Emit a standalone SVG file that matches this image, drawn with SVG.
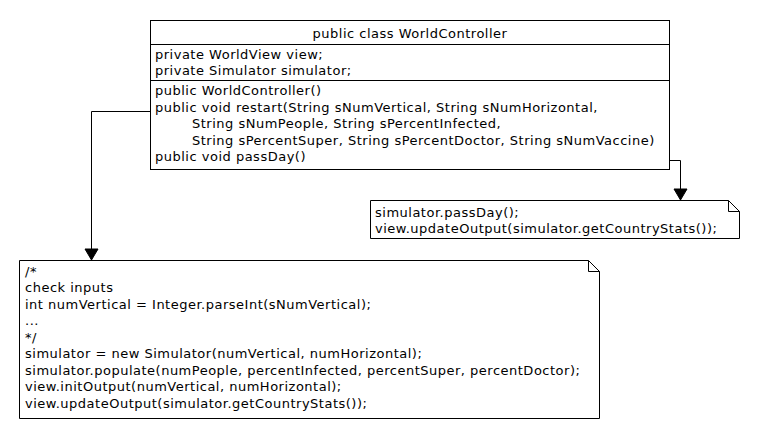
<svg xmlns="http://www.w3.org/2000/svg" width="760" height="440" viewBox="0 0 760 440">
<style>
text{font-family:"DejaVu Sans","Liberation Sans",sans-serif;font-size:13px;letter-spacing:0.5px;fill:#000}
.box{fill:#fff;stroke:#000;stroke-width:1}
.ln{fill:none;stroke:#000;stroke-width:1}
.ah{fill:#000;stroke:#000;stroke-width:1}
</style>
<rect width="760" height="440" fill="#fff"/>
<g id="worldcontroller">
<rect class="box" x="150.5" y="20.5" width="519" height="149"/>
<line class="ln" x1="150.5" y1="44.5" x2="669.5" y2="44.5"/>
<line class="ln" x1="150.5" y1="80.5" x2="669.5" y2="80.5"/>
<text x="410" y="38" text-anchor="middle">public class WorldController</text>
<text x="155" y="58.5">private WorldView view;</text>
<text x="155" y="74.5">private Simulator simulator;</text>
<text x="155" y="95">public WorldController()</text>
<text x="155" y="111.5">public void restart(String sNumVertical, String sNumHorizontal,</text>
<text x="192" y="128">String sNumPeople, String sPercentInfected,</text>
<text x="192" y="144.5">String sPercentSuper, String sPercentDoctor, String sNumVaccine)</text>
<text x="155" y="161">public void passDay()</text>
</g>
<g id="note-passday">
<path class="box" d="M370.5,200.5 H728.5 L739.5,211.5 V238.5 H370.5 Z"/>
<path class="ln" d="M728.5,200.5 V211.5 H739.5"/>
<text x="375" y="216.5">simulator.passDay();</text>
<text x="375" y="233">view.updateOutput(simulator.getCountryStats());</text>
</g>
<g id="note-restart">
<path class="box" d="M19.5,260.5 H588.5 L599.5,271.5 V418.5 H19.5 Z"/>
<path class="ln" d="M588.5,260.5 V271.5 H599.5"/>
<text x="25" y="275.5">/*</text>
<text x="25" y="292">check inputs</text>
<text x="25" y="308.5">int numVertical = Integer.parseInt(sNumVertical);</text>
<text x="25" y="325">...</text>
<text x="25" y="341.5">*/</text>
<text x="25" y="358">simulator = new Simulator(numVertical, numHorizontal);</text>
<text x="25" y="374.5">simulator.populate(numPeople, percentInfected, percentSuper, percentDoctor);</text>
<text x="25" y="391">view.initOutput(numVertical, numHorizontal);</text>
<text x="25" y="407.5">view.updateOutput(simulator.getCountryStats());</text>
</g>
<g id="connectors">
<polyline class="ln" points="150.5,111.5 91.5,111.5 91.5,250"/>
<polygon class="ah" points="91.5,260 85,249 98,249"/>
<polyline class="ln" points="669.5,160.5 680.5,160.5 680.5,190"/>
<polygon class="ah" points="680.5,200 674,189 687,189"/>
</g>
</svg>
